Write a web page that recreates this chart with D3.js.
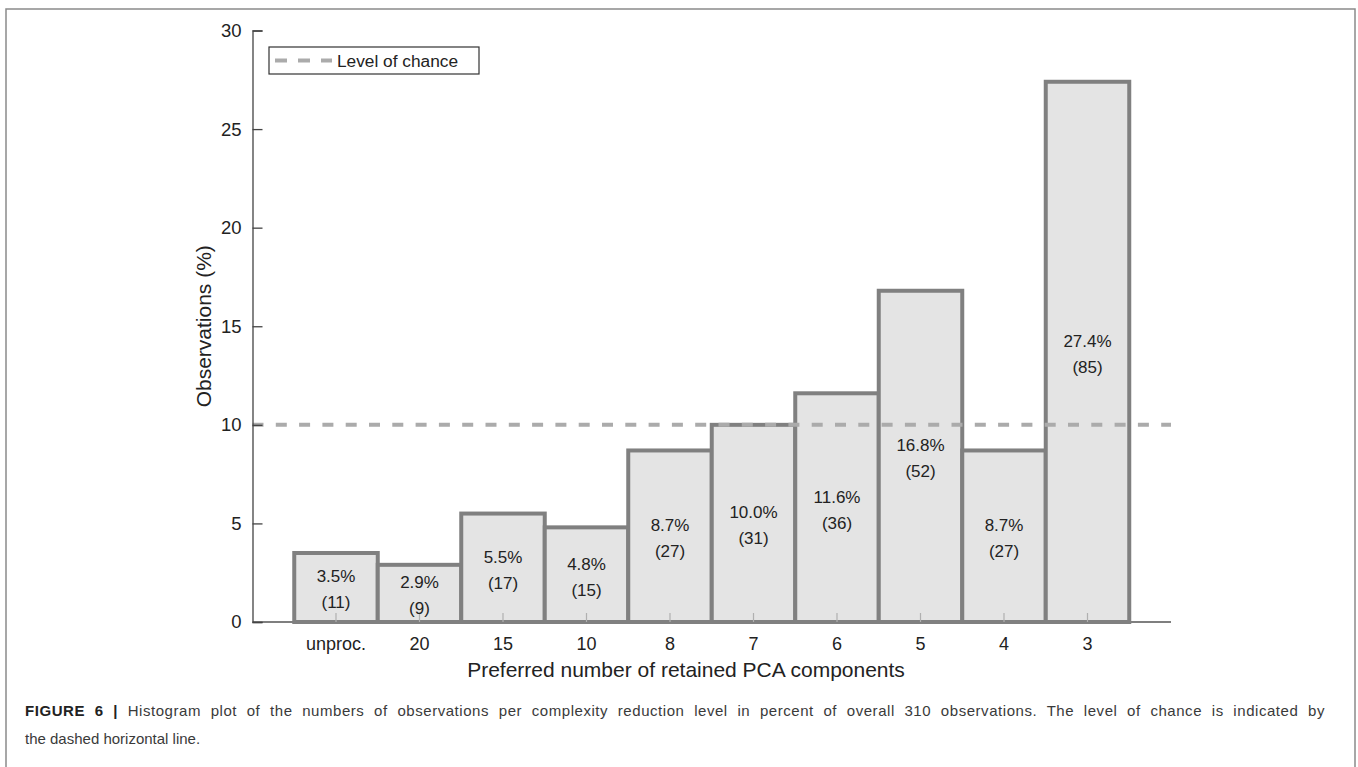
<!DOCTYPE html>
<html>
<head>
<meta charset="utf-8">
<script src="https://cdn.jsdelivr.net/npm/d3@7"></script>
<style>
  html, body { margin: 0; padding: 0; background: #fff; }
  svg { display: block; font-family: "Liberation Sans", Arial, Helvetica, sans-serif; }
</style>
</head>
<body>
<svg id="chart" width="1358" height="767"></svg>
<script>
// ---- data ----
const categories = ["unproc.", "20", "15", "10", "8", "7", "6", "5", "4", "3"];
const percents   = [3.5, 2.9, 5.5, 4.8, 8.7, 10.0, 11.6, 16.8, 8.7, 27.4];
const counts     = [11, 9, 17, 15, 27, 31, 36, 52, 27, 85];
const yTicks     = [0, 5, 10, 15, 20, 25, 30];
const chanceLevel = 10;
const legendLabel = "Level of chance";
const xTitle = "Preferred number of retained PCA components";
const yTitle = "Observations (%)";
const captionBold = "FIGURE 6 |";
const captionLine1 = " Histogram plot of the numbers of observations per complexity reduction level in percent of overall 310 observations. The level of chance is indicated by";
const captionLine2 = "the dashed horizontal line.";

// ---- layout ----
const svg = d3.select("#chart");
const axisX0 = 252.5, axisX1 = 1171;
const y = d3.scaleLinear().domain([0, 30]).range([622, 30.5]);
const xPos = d3.scaleLinear().domain([0, 11]).range([axisX0, axisX1]);
const x = d3.scaleBand().domain(categories).range([xPos(0.5), xPos(10.5)]).paddingInner(0).paddingOuter(0);

const data = categories.map((c, i) => ({ cat: c, pct: percents[i], n: counts[i] }));

// outer frame
svg.append("rect").attr("x", 6).attr("y", 9).attr("width", 1349).attr("height", 820)
  .attr("fill", "none").attr("stroke", "#8a8a8a").attr("stroke-width", 1.5);

// x axis baseline
svg.append("line").attr("x1", axisX0).attr("x2", axisX1).attr("y1", y(0)).attr("y2", y(0))
  .attr("stroke", "#555").attr("stroke-width", 1.5);

// bars
svg.append("g").selectAll("rect").data(data).join("rect")
  .attr("x", d => x(d.cat))
  .attr("y", d => y(d.pct))
  .attr("width", x.bandwidth())
  .attr("height", d => y(0) - y(d.pct))
  .attr("fill", "#e4e4e4")
  .attr("stroke", "#808080")
  .attr("stroke-width", 4);

// x ticks (inward, light)
svg.append("g").selectAll("line").data(categories).join("line")
  .attr("x1", d => x(d) + x.bandwidth() / 2).attr("x2", d => x(d) + x.bandwidth() / 2)
  .attr("y1", y(0)).attr("y2", y(0) - 9)
  .attr("stroke", "#b0b0b0").attr("stroke-width", 1.2);

// x tick labels
const xAxis = svg.append("g").attr("transform", `translate(0,${y(0)})`)
  .call(d3.axisBottom(x).tickSize(0).tickPadding(15));
xAxis.select(".domain").remove();
xAxis.selectAll("text").attr("font-size", 18).attr("fill", "#222")
  .attr("font-family", "Liberation Sans, Arial, sans-serif");

// chance line
svg.append("line").attr("x1", axisX0).attr("x2", axisX1)
  .attr("y1", y(chanceLevel)).attr("y2", y(chanceLevel))
  .attr("stroke", "#ababab").attr("stroke-width", 4).attr("stroke-dasharray", "11,12.3");

// bar labels (two lines centred at half height)
const lbl = svg.append("g").attr("font-size", 17).attr("fill", "#222").attr("text-anchor", "middle");
lbl.selectAll("text.pct").data(data).join("text").attr("class", "pct")
  .attr("x", d => x(d.cat) + x.bandwidth() / 2)
  .attr("y", d => y(d.pct / 2) - 11)
  .attr("dy", "0.35em")
  .text(d => d.pct.toFixed(1) + "%");
lbl.selectAll("text.cnt").data(data).join("text").attr("class", "cnt")
  .attr("x", d => x(d.cat) + x.bandwidth() / 2)
  .attr("y", d => y(d.pct / 2) + 15)
  .attr("dy", "0.35em")
  .text(d => "(" + d.n + ")");

// y axis
const yAxis = svg.append("g").attr("transform", `translate(${axisX0},0)`)
  .call(d3.axisLeft(y).tickValues(yTicks).tickSize(-10).tickPadding(11).tickFormat(d3.format("d")));
yAxis.select(".domain").attr("stroke", "#444").attr("stroke-width", 1.3);
yAxis.selectAll(".tick line").attr("stroke", "#444").attr("stroke-width", 1.3);
yAxis.selectAll("text").attr("font-size", 18.5).attr("fill", "#222")
  .attr("font-family", "Liberation Sans, Arial, sans-serif");

// axis titles
svg.append("text").attr("x", 686).attr("y", 677).attr("text-anchor", "middle")
  .attr("font-size", 21).attr("fill", "#222").text(xTitle);
svg.append("text").attr("transform", `translate(211,${y(15)}) rotate(-90)`)
  .attr("text-anchor", "middle").attr("font-size", 21).attr("fill", "#222").text(yTitle);

// legend
const lg = svg.append("g");
lg.append("rect").attr("x", 269).attr("y", 47).attr("width", 210).attr("height", 27)
  .attr("fill", "#fff").attr("stroke", "#333").attr("stroke-width", 1.2);
lg.append("line").attr("x1", 275).attr("x2", 332).attr("y1", 60.5).attr("y2", 60.5)
  .attr("stroke", "#ababab").attr("stroke-width", 4).attr("stroke-dasharray", "12,11");
lg.append("text").attr("x", 337).attr("y", 60.5).attr("dy", "0.35em")
  .attr("font-size", 17.3).attr("fill", "#222").text(legendLabel);

// caption (first line justified to full width)
const cap = svg.append("text").attr("x", 25).attr("y", 716).attr("font-size", 15)
  .attr("fill", "#3a3a3a").attr("letter-spacing", 0.55);
cap.append("tspan").attr("font-weight", "bold").attr("fill", "#222").text(captionBold);
cap.append("tspan").text(captionLine1);
const natural = cap.node().getComputedTextLength();
const nSpaces = (captionBold + captionLine1).split(" ").length - 1;
const targetW = 1300;
cap.attr("word-spacing", Math.max(0, (targetW - natural) / nSpaces));
svg.append("text").attr("x", 25).attr("y", 744).attr("font-size", 15).attr("fill", "#3a3a3a").text(captionLine2);
</script>
</body>
</html>
